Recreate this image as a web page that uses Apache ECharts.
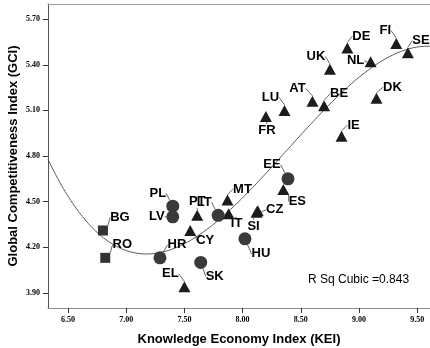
<!DOCTYPE html>
<html>
<head>
<meta charset="utf-8">
<script src="https://cdn.jsdelivr.net/npm/echarts@6/dist/echarts.min.js"></script>
<style>
  html, body { margin: 0; padding: 0; background: #fff; }
  #chart { width: 430px; height: 348px; }
</style>
</head>
<body>
<div id="chart"></div>
<script>
// Country codes with their Knowledge Economy Index and Global Competitiveness Index
const countries = ['BG','RO','PL','LV','LT','HR','SK','HU','EE','EL','CY','PT','IT','MT','CZ','SI','ES','FR','LU','AT','BE','UK','DE','NL','FI','SE','DK','IE'];
const kei = [6.80, 6.82, 7.40, 7.40, 7.79, 7.29, 7.64, 8.02, 8.39, 7.50, 7.55, 7.61, 7.88, 7.87, 8.13, 8.12, 8.35, 8.20, 8.36, 8.60, 8.70, 8.75, 8.90, 9.10, 9.32, 9.42, 9.15, 8.85];
const gci = [4.31, 4.13, 4.47, 4.40, 4.41, 4.13, 4.10, 4.255, 4.65, 3.94, 4.31, 4.41, 4.42, 4.51, 4.44, 4.43, 4.58, 5.06, 5.10, 5.16, 5.13, 5.37, 5.51, 5.42, 5.54, 5.48, 5.18, 4.93];
// Marker group of each country
const group = ['square','square','circle','circle','circle','circle','circle','circle','circle',
  'triangle','triangle','triangle','triangle','triangle','triangle','triangle','triangle','triangle','triangle',
  'triangle','triangle','triangle','triangle','triangle','triangle','triangle','triangle','triangle'];

// Axis ticks
const xTicks = [6.5, 7.0, 7.5, 8.0, 8.5, 9.0, 9.5];
const yTicks = [3.9, 4.2, 4.5, 4.8, 5.1, 5.4, 5.7];
const fitLabel = 'R Sq Cubic =0.843';

// Label placement (pixel offset of each label from its marker)
const labelShift = {
  BG: [17, -13], RO: [17, -13], PL: [-15, -13], LV: [-16, 0], LT: [-14, -13], HR: [17, -13],
  SK: [14, 14], HU: [16, 15], EE: [-16, -14], EL: [-14, -13], CY: [15, 10], PT: [0, -14],
  IT: [8, 10], MT: [15, -11], CZ: [17, -1], SI: [-3, 14], ES: [14, 12], FR: [1, 14],
  LU: [-14, -13], AT: [-15, -13], BE: [15, -12], UK: [-14, -13], DE: [14, -12], NL: [-15, -1],
  FI: [-11, -13], SE: [13, -12], DK: [16, -11], IE: [12, -11]
};

const X_MIN = 6.328, X_MAX = 9.61;

// Least-squares cubic fit of GCI on KEI
function cubicFit(xs, ys) {
  const n = 4;
  const A = [], b = [];
  for (let i = 0; i < n; i++) {
    A.push(new Array(n).fill(0));
    b.push(0);
  }
  for (let k = 0; k < xs.length; k++) {
    for (let i = 0; i < n; i++) {
      for (let j = 0; j < n; j++) A[i][j] += Math.pow(xs[k], i + j);
      b[i] += ys[k] * Math.pow(xs[k], i);
    }
  }
  for (let c = 0; c < n; c++) {
    let p = c;
    for (let r = c + 1; r < n; r++) if (Math.abs(A[r][c]) > Math.abs(A[p][c])) p = r;
    [A[c], A[p]] = [A[p], A[c]];
    [b[c], b[p]] = [b[p], b[c]];
    for (let r = c + 1; r < n; r++) {
      const f = A[r][c] / A[c][c];
      for (let j = c; j < n; j++) A[r][j] -= f * A[c][j];
      b[r] -= f * b[c];
    }
  }
  const coef = new Array(n).fill(0);
  for (let i = n - 1; i >= 0; i--) {
    let s = b[i];
    for (let j = i + 1; j < n; j++) s -= A[i][j] * coef[j];
    coef[i] = s / A[i][i];
  }
  return coef;
}
const coef = cubicFit(kei, gci);
const fitLine = [];
for (let i = 0; i <= 200; i++) {
  const x = X_MIN + (X_MAX - X_MIN) * i / 200;
  fitLine.push([x, coef[0] + coef[1] * x + coef[2] * x * x + coef[3] * x * x * x]);
}

const markerStyle = {
  square: { symbol: 'rect', size: 10, color: '#333333' },
  circle: { symbol: 'circle', size: 13, color: '#3a3a3a' },
  triangle: { symbol: 'triangle', size: [12, 11], color: '#1c1c1c' }
};

function groupSeries(name) {
  const idx = [];
  countries.forEach((c, i) => { if (group[i] === name) idx.push(i); });
  const st = markerStyle[name];
  return {
    type: 'scatter',
    name: name,
    symbol: st.symbol,
    symbolSize: st.size,
    itemStyle: { color: st.color, opacity: 1 },
    data: idx.map(i => ({ value: [kei[i], gci[i]], name: countries[i] })),
    label: {
      show: true,
      position: 'inside',
      formatter: p => p.name,
      fontFamily: 'Liberation Sans, Arial, sans-serif',
      fontWeight: 'bold',
      fontSize: 13,
      color: '#000'
    },
    labelLine: { show: true, lineStyle: { color: '#000', width: 0.6 } },
    labelLayout: function (p) {
      const code = countries[idx[p.dataIndex]];
      const s = labelShift[code] || [0, 0];
      return { dx: s[0], dy: s[1] };
    },
    z: 3
  };
}

const chart = echarts.init(document.getElementById('chart'), null, { renderer: 'canvas' });
const tickFont = { fontFamily: 'Liberation Serif, Times New Roman, serif', fontWeight: 'bold', fontSize: 8, color: '#000' };
const titleFont = { fontFamily: 'Liberation Sans, Arial, sans-serif', fontWeight: 'bold', fontSize: 13, color: '#000' };

chart.setOption({
  animation: false,
  backgroundColor: '#fff',
  grid: { left: 48, top: 4, right: 0, bottom: 40, containLabel: false, outerBoundsMode: 'none' },
  xAxis: [{
    type: 'value', min: X_MIN, max: X_MAX,
    name: 'Knowledge Economy Index (KEI)', nameLocation: 'middle', nameGap: 25,
    nameTextStyle: titleFont,
    axisLine: { show: true, lineStyle: { color: '#8c8c8c', width: 1 } },
    axisTick: { show: true, length: 5, lineStyle: { color: '#333' }, customValues: xTicks },
    axisLabel: Object.assign({ margin: 8, customValues: xTicks, formatter: v => v.toFixed(2) }, tickFont),
    splitLine: { show: false }
  }, {
    type: 'value', position: 'top', min: X_MIN, max: X_MAX,
    axisLine: { show: true, lineStyle: { color: '#9a9a9a', width: 1 } },
    axisTick: { show: false }, axisLabel: { show: false }, splitLine: { show: false }
  }],
  yAxis: {
    type: 'value', min: 3.8, max: 5.8,
    name: 'Global Competitiveness Index (GCI)', nameLocation: 'middle', nameGap: 28, nameRotate: 90,
    nameMoveOverlap: false,
    nameTextStyle: titleFont,
    axisLine: { show: true, lineStyle: { color: '#555', width: 1 } },
    axisTick: { show: true, length: 5, lineStyle: { color: '#333' }, customValues: yTicks },
    axisLabel: Object.assign({ margin: 8, customValues: yTicks, formatter: v => v.toFixed(2) }, tickFont),
    splitLine: { show: false }
  },
  series: [
    {
      type: 'line', data: fitLine, showSymbol: false, symbol: 'none', silent: true,
      lineStyle: { color: '#333', width: 0.8 }, z: 2, clip: true
    },
    groupSeries('square'),
    groupSeries('circle'),
    groupSeries('triangle')
  ],
  graphic: [{
    type: 'text', left: 308, top: 274,
    style: { text: fitLabel, fontFamily: 'Liberation Sans, Arial, sans-serif', fontSize: 12, fill: '#000' }
  }]
});
</script>
</body>
</html>
